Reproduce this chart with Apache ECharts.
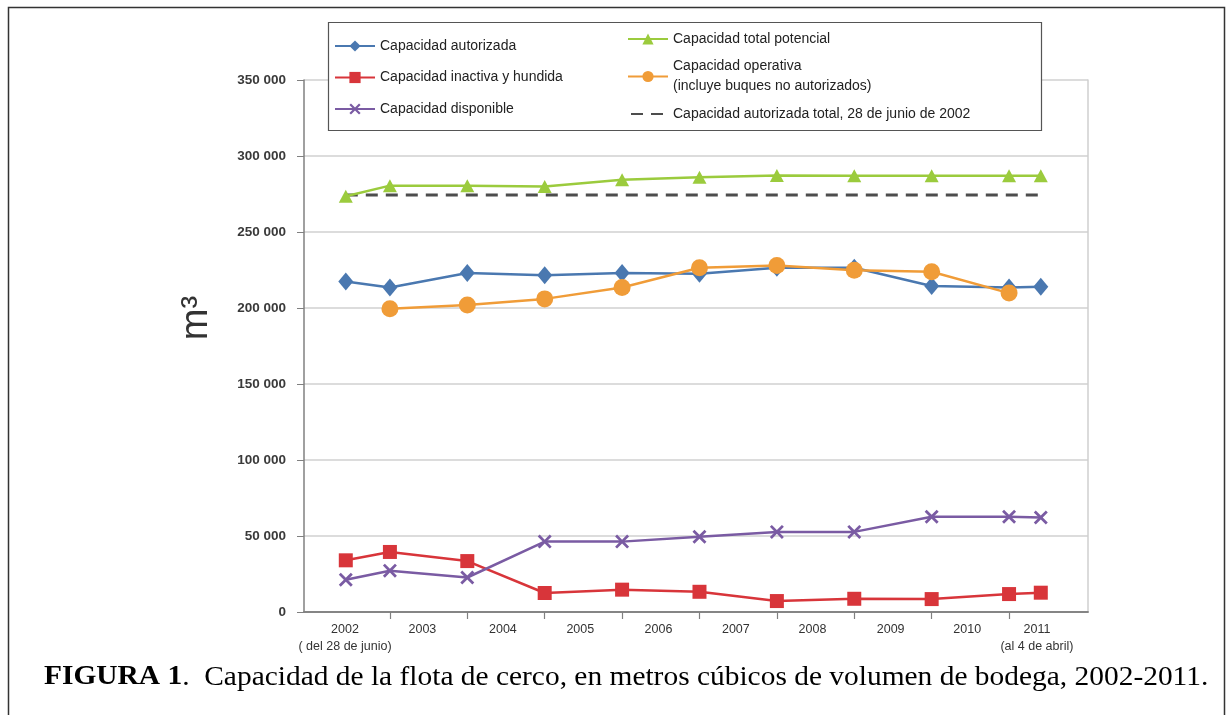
<!DOCTYPE html>
<html>
<head>
<meta charset="utf-8">
<title>Capacidad de la flota de cerco</title>
<script src="https://cdn.jsdelivr.net/npm/echarts@6/dist/echarts.min.js"></script>
<style>
	html, body { margin: 0; padding: 0; background: #fff; }
	#echarts-line-chart { width: 1228px; height: 715px; }
</style>
</head>
<body>
<div id="echarts-line-chart"></div>
<script>
// posiciones en el eje (años); 1ª = 28 de junio de 2002, última = 4 de abril de 2011
var xVals = [2002.43, 2003, 2004, 2005, 2006, 2007, 2008, 2009, 2010, 2011, 2011.41];

var autorizada = [217500, 213500, 223000, 221500, 223000, 222500, 226500, 226500, 214500, 213500, 214000];
var inactiva = [34000, 39500, 33500, 12500, 14700, 13300, 7200, 8700, 8500, 11800, 12700];
var disponible = [21200, 27200, 22700, 46300, 46300, 49500, 52700, 52700, 62700, 62700, 62200];
var totalPotencial = [273500, 280500, 280500, 280000, 284300, 286000, 287200, 287000, 287000, 287000, 287000];
var operativa = [null, 199500, 202000, 206000, 213500, 226500, 228000, 224800, 223800, 209800, null];
var autorizadaTotal2002 = 274300;

var xTickVals = [2003, 2004, 2005, 2006, 2007, 2008, 2009, 2010, 2011];
var xLabelPos = [2002.42, 2003.42, 2004.46, 2005.46, 2006.47, 2007.47, 2008.46, 2009.47, 2010.46, 2011.36];
var xLabelText = [ "2002\n( del 28 de junio)", "2003", "2004", "2005", "2006", "2007", "2008", "2009", "2010", "2011\n(al 4 de abril)" ];

var serieNames = [ "Capacidad autorizada", "Capacidad inactiva y hundida", "Capacidad disponible",
	"Capacidad total potencial", "Capacidad operativa (incluye buques no autorizados)",
	"Capacidad autorizada total, 28 de junio de 2002" ];

function pairs(values) {
	var out = [];
	for (var i = 0; i < values.length; i++) {
		if (values[i] != null) out.push([ xVals[i], values[i] ]);
	}
	return out;
}

function miles(v) {
	return String(v).replace(/\B(?=(\d{3})+(?!\d))/g, " ");
}

var xSymbol = "path://M0,1.4 L1.4,0 L5,3.6 L8.6,0 L10,1.4 L6.4,5 L10,8.6 L8.6,10 L5,6.4 L1.4,10 L0,8.6 L3.6,5 Z";
var sans = "Liberation Sans, Arial, sans-serif";

var e = echarts.init(document.getElementById("echarts-line-chart")), a = {
	backgroundColor : "#fff",
	animation : false,
	graphic : [ {
		type : "rect",
		shape : { x : 8.5, y : 7.5, width : 1216, height : 730 },
		style : { fill : null, stroke : "#333", lineWidth : 1.5 },
		silent : true
	}, {
		type : "rect",
		z : 3,
		shape : { x : 328.5, y : 22.5, width : 713, height : 108 },
		style : { fill : "#fff", stroke : "#555", lineWidth : 1.2 },
		silent : true
	}, {
		// pie de figura
		type : "text",
		x : 44,
		y : 664,
		scaleX : 1.09,
		silent : true,
		style : {
			text : "{b|FIGURA 1}{n|.  Capacidad de la flota de cerco, en metros cúbicos de volumen de bodega, 2002-2011.}",
			verticalAlign : "top",
			rich : {
				b : { fontFamily : "Liberation Serif", fontWeight : "bold", fontSize : 27, fill : "#000" },
				n : { fontFamily : "Liberation Serif", fontWeight : "normal", fontSize : 27, fill : "#000" }
			}
		}
	} ],
	legend : [ {
		left : 329,
		top : 34,
		orient : "vertical",
		itemWidth : 40,
		itemHeight : 14,
		itemGap : 17.5,
		z : 5,
		textStyle : { fontFamily : sans, fontSize : 14, color : "#222" },
		data : [ serieNames[0], serieNames[1], serieNames[2] ]
	}, {
		left : 622,
		top : 24,
		orient : "vertical",
		itemWidth : 40,
		itemHeight : 14,
		itemGap : 7.5,
		z : 5,
		textStyle : { fontFamily : sans, fontSize : 14, color : "#222", lineHeight : 20 },
		formatter : function(name) {
			return name.replace(" (incluye", "\n(incluye");
		},
		data : [ serieNames[3], serieNames[4], {
			name : serieNames[5],
			itemStyle : { opacity : 0 },
			lineStyle : { dashOffset : -3 }
		} ]
	} ],
	grid : {
		left : 304,
		top : 80,
		right : 140,
		bottom : 103
	},
	xAxis : [ {
		type : "value",
		min : 2001.89,
		max : 2012.02,
		axisLine : { lineStyle : { color : "#808080", width : 1.5 } },
		axisTick : {
			show : true,
			length : 7,
			customValues : xTickVals,
			lineStyle : { color : "#808080", width : 1.2 }
		},
		axisLabel : {
			customValues : xLabelPos,
			margin : 9,
			fontFamily : "Liberation Sans Narrow, Liberation Sans, sans-serif",
			fontSize : 12.5,
			lineHeight : 17,
			color : "#333",
			formatter : function(v) {
				for (var i = 0; i < xLabelPos.length; i++) {
					if (Math.abs(xLabelPos[i] - v) < 1e-6) return xLabelText[i];
				}
				return "";
			}
		},
		splitLine : { show : false }
	}, {
		type : "value",
		position : "top",
		min : 2001.89,
		max : 2012.02,
		axisLine : { show : true, lineStyle : { color : "#808080", width : 1.5 } },
		axisTick : { show : false },
		axisLabel : { show : false },
		splitLine : { show : false }
	} ],
	yAxis : [ {
		type : "value",
		min : 0,
		max : 350000,
		interval : 50000,
		name : "m³",
		nameLocation : "middle",
		nameGap : 88,
		nameTextStyle : { fontFamily : sans, fontSize : 38, color : "#333", padding : [ 0, 0, 0, 56 ] },
		axisLine : { show : true, lineStyle : { color : "#808080", width : 1.5 } },
		axisTick : { show : true, length : 7, lineStyle : { color : "#808080" } },
		axisLabel : {
			margin : 18,
			fontFamily : sans,
			fontSize : 13.5,
			fontWeight : "bold",
			color : "#3a3a3a",
			formatter : miles
		},
		splitLine : { lineStyle : { color : "#dcdcdc", width : 2 } }
	}, {
		type : "value",
		position : "right",
		min : 0,
		max : 350000,
		axisLine : { show : true, lineStyle : { color : "#cfcfcf", width : 1.5 } },
		axisTick : { show : false },
		axisLabel : { show : false },
		splitLine : { show : false }
	} ],
	series : [ {
		name : serieNames[0],
		type : "line",
		data : pairs(autorizada),
		symbol : "diamond",
		symbolSize : [ 15, 18 ],
		lineStyle : { width : 2.5, color : "#4a78b0" },
		itemStyle : { color : "#4a78b0" }
	}, {
		name : serieNames[1],
		type : "line",
		data : pairs(inactiva),
		symbol : "rect",
		symbolSize : 14,
		lineStyle : { width : 2.5, color : "#d8353a" },
		itemStyle : { color : "#d8353a" }
	}, {
		name : serieNames[2],
		type : "line",
		data : pairs(disponible),
		symbol : xSymbol,
		symbolSize : 14,
		lineStyle : { width : 2.5, color : "#7a5ba3" },
		itemStyle : { color : "#7a5ba3" }
	}, {
		name : serieNames[5],
		type : "line",
		data : [ [ xVals[0], autorizadaTotal2002 ], [ xVals[xVals.length - 1] + 0.05, autorizadaTotal2002 ] ],
		symbol : "none",
		lineStyle : { width : 3, color : "#4d4d4d", type : [ 12, 8 ] },
		itemStyle : { color : "#4d4d4d" }
	}, {
		name : serieNames[3],
		type : "line",
		data : pairs(totalPotencial),
		symbol : "triangle",
		symbolSize : [ 14, 13 ],
		lineStyle : { width : 2.5, color : "#9bcb3d" },
		itemStyle : { color : "#9bcb3d" }
	}, {
		name : serieNames[4],
		type : "line",
		data : pairs(operativa),
		symbol : "circle",
		symbolSize : 17,
		lineStyle : { width : 2.5, color : "#f09c38" },
		itemStyle : { color : "#f09c38" }
	} ]
};
e.setOption(a);
window.addEventListener("resize", e.resize);
</script>
</body>
</html>
